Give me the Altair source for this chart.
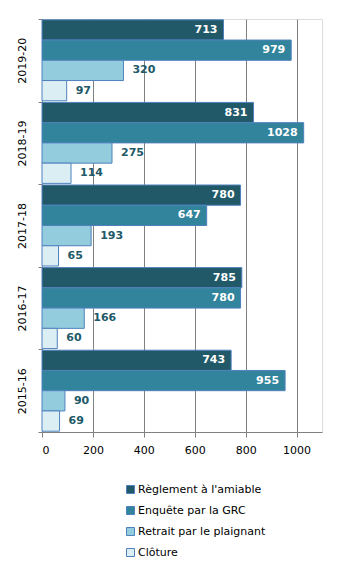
import altair as alt
import pandas as pd

years = ["2019-20", "2018-19", "2017-18", "2016-17", "2015-16"]
series = ["Règlement à l'amiable", "Enquête par la GRC", "Retrait par le plaignant", "Clôture"]
reglement = [713, 831, 780, 785, 743]
enquete = [979, 1028, 647, 780, 955]
retrait = [320, 275, 193, 166, 90]
cloture = [97, 114, 65, 60, 69]
colors = ["#215968", "#31849b", "#93cddd", "#dbeef4"]

rows = []
for i, y in enumerate(years):
    for s, vals in zip(series, [reglement, enquete, retrait, cloture]):
        rows.append({"year": y, "series": s, "value": vals[i],
                     "inside": s in series[:2]})
df = pd.DataFrame(rows)

FONT = "DejaVu Sans"

y_enc = alt.Y("year:N", sort=years, title=None,
              scale=alt.Scale(paddingInner=0, paddingOuter=0),
              axis=alt.Axis(labelAngle=270, labelAlign="center", labelBaseline="bottom",
                            tickBand="extent", domainColor="#808080", tickColor="#808080",
                            labelFont=FONT, labelFontSize=11, labelColor="#000000",
                            labelPadding=11, tickSize=4))
yoff = alt.YOffset("series:N", sort=series,
                   scale=alt.Scale(paddingInner=0, paddingOuter=0.04))
x_enc = alt.X("value:Q", title=None,
              scale=alt.Scale(domain=[0, 1100], nice=False),
              axis=alt.Axis(values=[0, 200, 400, 600, 800, 1000], grid=True, format="d",
                            gridColor="#808080", domainColor="#808080", tickColor="#808080",
                            labelFont=FONT, labelFontSize=11, labelColor="#000000",
                            tickSize=5, labelPadding=7))

bars = alt.Chart(df).mark_bar(stroke="#4f81bd", strokeWidth=1).encode(
    x=x_enc, y=y_enc, yOffset=yoff,
    color=alt.Color("series:N", sort=series, title=None,
                    scale=alt.Scale(domain=series, range=colors),
                    legend=alt.Legend(orient="none", legendX=83, legendY=465,
                                      direction="vertical", symbolType="square",
                                      symbolSize=64, symbolStrokeColor="#4f81bd",
                                      symbolStrokeWidth=1, labelFont=FONT,
                                      labelFontSize=11, labelColor="#000000",
                                      rowPadding=8, labelOffset=2)),
)

inside = alt.Chart(df).transform_filter("datum.inside").mark_text(
    align="right", dx=-6, font=FONT, fontWeight="bold", fontSize=11, color="white"
).encode(x="value:Q", y=alt.Y("year:N", sort=years), yOffset=yoff, text="value:Q")

outside = alt.Chart(df).transform_filter("!datum.inside").mark_text(
    align="left", dx=9, font=FONT, fontWeight="bold", fontSize=11, color="#215968"
).encode(x="value:Q", y=alt.Y("year:N", sort=years), yOffset=yoff, text="value:Q")

chart = alt.layer(bars, inside, outside).properties(
    width=280, height=413,
    autosize=alt.AutoSizeParams(type="none"),
    padding={"left": 42, "top": 19, "right": 28, "bottom": 137},
).configure_view(stroke=None).configure(background="white")

chart.save("out.html", embed_options={"renderer": "svg", "actions": False})
